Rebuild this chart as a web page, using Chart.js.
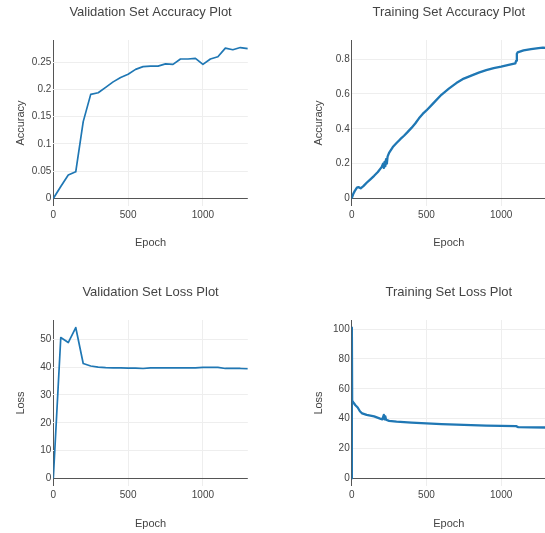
<!DOCTYPE html>
<html>
<head>
<meta charset="utf-8">
<script src="https://cdn.jsdelivr.net/npm/chart.js@4.4.1/dist/chart.umd.min.js"></script>
<style>
html,body{margin:0;padding:0;background:#fff;overflow:hidden;width:545px;height:533px;position:relative}
canvas{position:absolute;display:block}
</style>
</head>
<body>
<canvas id="c1"></canvas>
<canvas id="c2"></canvas>
<canvas id="c3"></canvas>
<canvas id="c4"></canvas>
<script>
// ---------- data ----------
const valEpochs = [0,50,100,150,200,250,300,350,400,450,500,550,600,650,700,750,800,850,900,950,1000,1050,1100,1150,1200,1250,1300];
const valAccuracy = [0,0.022,0.043,0.049,0.141,0.191,0.194,0.204,0.214,0.222,0.228,0.237,0.242,0.243,0.243,0.247,0.246,0.256,0.256,0.257,0.246,0.256,0.260,0.276,0.273,0.277,0.275];
const valLoss = [0,50.6,48.8,54.2,41.3,40.4,40.0,39.8,39.7,39.7,39.6,39.6,39.5,39.7,39.7,39.7,39.7,39.7,39.7,39.7,39.9,39.9,39.9,39.5,39.5,39.5,39.4];

const trainAccEpochs = [0,10,20,35,45,60,80,100,125,150,175,200,210,215,220,225,230,235,240,250,275,300,325,350,375,400,425,450,475,500,550,600,650,700,750,800,850,900,950,1000,1050,1095,1100,1105,1110,1150,1200,1250,1280,1300];
const trainAccuracy = [0,0.025,0.042,0.062,0.065,0.058,0.072,0.09,0.11,0.13,0.152,0.18,0.2,0.175,0.21,0.185,0.225,0.2,0.24,0.262,0.295,0.318,0.34,0.36,0.382,0.405,0.43,0.46,0.485,0.505,0.55,0.595,0.63,0.662,0.688,0.705,0.722,0.736,0.748,0.756,0.766,0.775,0.79,0.83,0.838,0.85,0.857,0.863,0.866,0.864];

const trainLossEpochs = [0,1,3,10,25,40,55,70,100,150,190,205,215,220,225,230,250,300,400,500,600,700,800,900,1000,1100,1115,1200,1300];
const trainLoss = [0,101,52,51,49,47.5,45,43.5,42.5,41.5,40,39.5,42.5,39.5,41.5,39.3,38.5,38,37.4,36.8,36.3,36,35.7,35.4,35.2,35,34.3,34.2,34.1];

const epochTicks = [0,500,1000];
const valAccTicks = [0,0.05,0.1,0.15,0.2,0.25];
const trainAccTicks = [0,0.2,0.4,0.6,0.8];
const valLossTicks = [0,10,20,30,40,50];
const trainLossTicks = [0,20,40,60,80,100];

const panelTitles = ['Validation Set Accuracy Plot','Training Set Accuracy Plot','Validation Set Loss Plot','Training Set Loss Plot'];
const xAxisTitle = 'Epoch';
const accAxisTitle = 'Accuracy';
const lossAxisTitle = 'Loss';

// ---------- drawing ----------
const FONT = '"Liberation Sans", Arial, sans-serif';
const TXT = '#444';
const LINE = '#1f77b4';

function makePanel(id, p) {
  const cv = document.getElementById(id);
  cv.width = p.w; cv.height = p.h;
  cv.style.left = p.cl + 'px'; cv.style.top = p.ct + 'px';
  const TLH = 13 * 1.2, ALH = 11 * 1.2;
  const padTitleTop = p.titleY - p.ct - TLH / 2;
  const padTitleBottom = p.area.top - p.ct - padTitleTop - TLH;
  const padLeft = p.yTitleX - p.cl - ALH / 2;
  const yWidth = p.area.left - p.cl - padLeft;
  const scaleBottom = p.xTitleY - p.ct + ALH / 2;
  const xHeight = scaleBottom - (p.area.bottom - p.ct);
  const padBottom = p.h - scaleBottom;
  const padRight = p.cl + p.w - p.area.right;

  const ys = p.y;
  const yMinD = Math.min(...ys), yMaxD = Math.max(...ys);
  const span = yMaxD - yMinD;
  const pts = p.x.map((e, i) => ({x: e, y: ys[i]}));

  const isZero = ctx => ctx.tick && ctx.tick.value === 0;
  const gridColor = ctx => isZero(ctx) ? '#555' : '#eee';
  const gridOpts = { color: gridColor, lineWidth: 1, drawTicks: false };

  return new Chart(cv, {
    type: 'line',
    data: { datasets: [{ data: pts, borderColor: LINE, borderWidth: p.lw, pointRadius: 0, tension: 0, fill: false, borderJoinStyle: 'round' }] },
    options: {
      responsive: false, animation: false, devicePixelRatio: 1,
      layout: { padding: { left: padLeft, right: padRight, top: 0, bottom: padBottom } },
      plugins: {
        legend: { display: false }, tooltip: { enabled: false },
        title: { display: true, text: p.title, fullSize: false, color: TXT,
          font: { family: FONT, size: 13, weight: 'normal', lineHeight: 1.2 },
          padding: { top: padTitleTop, bottom: padTitleBottom } }
      },
      scales: {
        x: {
          type: 'linear', min: 0, max: p.x[p.x.length - 1],
          afterBuildTicks: s => { s.ticks = epochTicks.map(v => ({ value: v })); },
          afterFit: s => { s.height = xHeight; },
          grid: gridOpts,
          border: { display: false },
          ticks: { color: TXT, font: { family: FONT, size: 10 }, padding: 3, maxRotation: 0, autoSkip: false, callback: v => String(v) },
          title: { display: true, text: xAxisTitle, color: TXT, font: { family: FONT, size: 11, lineHeight: 1.2 }, padding: 0 }
        },
        y: {
          type: 'linear', min: yMinD - 0.05 * span, max: yMaxD + 0.05 * span,
          afterBuildTicks: s => { s.ticks = p.yTicks.map(v => ({ value: v })); },
          afterFit: s => { s.width = yWidth; },
          grid: gridOpts,
          border: { display: false },
          ticks: { color: TXT, font: { family: FONT, size: 10 }, padding: 2, autoSkip: false, callback: v => String(v) },
          title: { display: true, text: p.yTitle, color: TXT, font: { family: FONT, size: 11, lineHeight: 1.2 }, padding: 0 }
        }
      }
    }
  });
}

makePanel('c1', { cl: 0, ct: 0, w: 272, h: 266, area: { left: 53.3, top: 40, right: 247.8, bottom: 206 },
  titleY: 12, xTitleY: 243, yTitleX: 20.5, x: valEpochs, y: valAccuracy, yTicks: valAccTicks,
  title: panelTitles[0], yTitle: accAxisTitle, lw: 1.7 });
makePanel('c2', { cl: 272, ct: 0, w: 275, h: 266, area: { left: 351.7, top: 40, right: 546, bottom: 206 },
  titleY: 12, xTitleY: 243, yTitleX: 319, x: trainAccEpochs, y: trainAccuracy, yTicks: trainAccTicks,
  title: panelTitles[1], yTitle: accAxisTitle, lw: 2.3 });
makePanel('c3', { cl: 0, ct: 266, w: 272, h: 267, area: { left: 53.3, top: 320, right: 247.8, bottom: 486 },
  titleY: 292.7, xTitleY: 523.5, yTitleX: 20.5, x: valEpochs, y: valLoss, yTicks: valLossTicks,
  title: panelTitles[2], yTitle: lossAxisTitle, lw: 1.7 });
makePanel('c4', { cl: 272, ct: 266, w: 275, h: 267, area: { left: 351.7, top: 320, right: 546, bottom: 486 },
  titleY: 292.7, xTitleY: 523.5, yTitleX: 319, x: trainLossEpochs, y: trainLoss, yTicks: trainLossTicks,
  title: panelTitles[3], yTitle: lossAxisTitle, lw: 2.3 });
</script>
</body>
</html>
